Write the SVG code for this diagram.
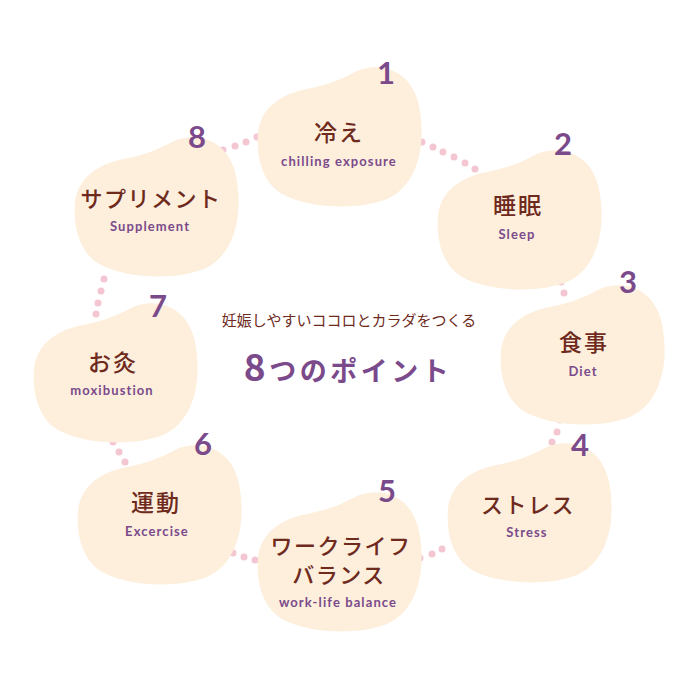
<svg xmlns="http://www.w3.org/2000/svg" xmlns:xlink="http://www.w3.org/1999/xlink" width="700" height="700" viewBox="0 0 700 700">
<style>
.bean{fill:#fdefdc}
.dot{fill:#f3c6d1}
.num{fill:#7b4a8b;font-family:Lato,"Noto Sans",sans-serif;font-weight:bold;font-size:31px;text-anchor:middle}
.jp{fill:#6e2a1c;font-family:"Noto Sans CJK JP",sans-serif;font-weight:500;font-size:22px;text-anchor:middle;letter-spacing:1.5px}
.en{fill:#7b4a8b;font-family:Lato,"Noto Sans",sans-serif;font-weight:bold;font-size:13px;text-anchor:middle;letter-spacing:1.1px}
.sub{fill:#6e2a1c;font-family:"Noto Sans CJK JP",sans-serif;font-size:15px;text-anchor:middle}
.title{fill:#7b4a8b;font-family:"Noto Sans CJK JP",sans-serif;font-weight:bold;font-size:27px;text-anchor:middle;letter-spacing:3.5px}
</style>
<defs>
<path id="bean" d="M 1 67 C 3 45 20 30 45 24 C 65 20 80 16 100 5 C 125 -5 155 5 162 40 C 170 80 160 120 130 133 C 100 145 50 142 25 128 C 5 116 -1 90 1 67 Z"/>
</defs>
<rect width="700" height="700" fill="#ffffff"/>
<g id="connectors">
<circle class="dot" cx="223" cy="150" r="3.5"/><circle class="dot" cx="235" cy="146" r="3.5"/><circle class="dot" cx="246" cy="142" r="3.5"/><circle class="dot" cx="257" cy="137" r="3.5"/>
<circle class="dot" cx="422" cy="142" r="3.5"/><circle class="dot" cx="433" cy="147" r="3.5"/><circle class="dot" cx="443" cy="152" r="3.5"/><circle class="dot" cx="454" cy="157" r="3.5"/><circle class="dot" cx="465" cy="163" r="3.5"/><circle class="dot" cx="475" cy="169" r="3.5"/>
<circle class="dot" cx="557" cy="270" r="3.5"/><circle class="dot" cx="561" cy="282" r="3.5"/><circle class="dot" cx="564" cy="293" r="3.5"/>
<circle class="dot" cx="560" cy="420" r="3.5"/><circle class="dot" cx="557" cy="432" r="3.5"/><circle class="dot" cx="552" cy="442" r="3.5"/>
<circle class="dot" cx="420" cy="558" r="3.5"/><circle class="dot" cx="432" cy="554" r="3.5"/><circle class="dot" cx="442" cy="549" r="3.5"/>
<circle class="dot" cx="222" cy="548" r="3.5"/><circle class="dot" cx="233" cy="553" r="3.5"/><circle class="dot" cx="244" cy="557" r="3.5"/><circle class="dot" cx="255" cy="560" r="3.5"/>
<circle class="dot" cx="113" cy="442" r="3.5"/><circle class="dot" cx="119" cy="452" r="3.5"/><circle class="dot" cx="125" cy="462" r="3.5"/>
<circle class="dot" cx="104" cy="279" r="3.5"/><circle class="dot" cx="101" cy="291" r="3.5"/><circle class="dot" cx="98" cy="303" r="3.5"/><circle class="dot" cx="96" cy="314" r="3.5"/>
</g>
<g id="node1">
<use xlink:href="#bean" href="#bean" class="bean" x="257" y="66"/>
<text class="num" x="386" y="84">1</text>
<text class="jp" x="339" y="141" style="font-size:23px;letter-spacing:2px">冷え</text>
<text class="en" x="339" y="166">chilling exposure</text>
</g>
<g id="node2">
<use xlink:href="#bean" href="#bean" class="bean" x="437" y="149"/>
<text class="num" x="563" y="155">2</text>
<text class="jp" x="518" y="214" style="font-size:23px;letter-spacing:2px">睡眠</text>
<text class="en" x="517" y="239">Sleep</text>
</g>
<g id="node3">
<use xlink:href="#bean" href="#bean" class="bean" x="500" y="284"/>
<text class="num" x="628" y="293">3</text>
<text class="jp" x="584" y="351" style="font-size:23px;letter-spacing:2px">食事</text>
<text class="en" x="583" y="376">Diet</text>
</g>
<g id="node4">
<use xlink:href="#bean" href="#bean" class="bean" x="447" y="442"/>
<text class="num" x="580" y="456">4</text>
<text class="jp" x="528" y="513">ストレス</text>
<text class="en" x="527" y="537">Stress</text>
</g>
<g id="node5">
<use xlink:href="#bean" href="#bean" class="bean" x="257" y="491"/>
<text class="num" x="387" y="502">5</text>
<text class="jp" x="341" y="554">ワークライフ</text>
<text class="jp" x="339" y="583">バランス</text>
<text class="en" x="338" y="607">work-life balance</text>
</g>
<g id="node6">
<use xlink:href="#bean" href="#bean" class="bean" x="77" y="444"/>
<text class="num" x="203" y="455">6</text>
<text class="jp" x="156" y="511" style="font-size:23px;letter-spacing:2px">運動</text>
<text class="en" x="157" y="536">Excercise</text>
</g>
<g id="node7">
<use xlink:href="#bean" href="#bean" class="bean" x="33" y="302"/>
<text class="num" x="158" y="317">7</text>
<text class="jp" x="113" y="371" style="font-size:23px;letter-spacing:2px">お灸</text>
<text class="en" x="112" y="395">moxibustion</text>
</g>
<g id="node8">
<use xlink:href="#bean" href="#bean" class="bean" x="74" y="136"/>
<text class="num" x="197" y="148">8</text>
<text class="jp" x="151" y="207">サプリメント</text>
<text class="en" x="150" y="231">Supplement</text>
</g>
<g id="center">
<text class="sub" x="349" y="326">妊娠しやすいココロとカラダをつくる</text>
<text class="title" x="348" y="381"><tspan style="font-size:37px">8</tspan>つのポイント</text>
</g>
</svg>
